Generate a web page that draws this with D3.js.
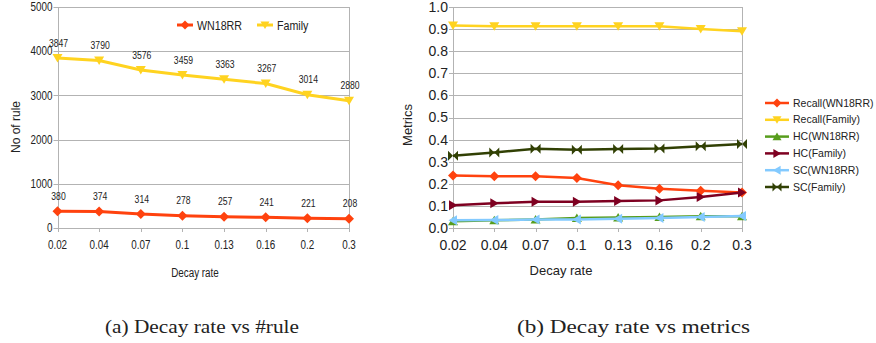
<!DOCTYPE html>
<html>
<head>
<meta charset="utf-8">
<script src="https://cdn.jsdelivr.net/npm/d3@7"></script>
<style>
  body { margin: 0; background: #fff; }
  text { fill: #222; }
</style>
</head>
<body>
<script>
// data
var decayRates = ['0.02', '0.04', '0.07', '0.1', '0.13', '0.16', '0.2', '0.3'];

var rulesWN18RR = [380, 374, 314, 278, 257, 241, 221, 208];
var rulesFamily = [3847, 3790, 3576, 3459, 3363, 3267, 3014, 2880];
var ruleTicks = [0, 1000, 2000, 3000, 4000, 5000];

var recallWN18RR = [0.238, 0.234, 0.234, 0.226, 0.193, 0.178, 0.169, 0.161];
var recallFamily = [0.916, 0.913, 0.913, 0.913, 0.913, 0.913, 0.900, 0.890];
var hcWN18RR = [0.030, 0.035, 0.038, 0.045, 0.048, 0.050, 0.053, 0.053];
var hcFamily = [0.103, 0.112, 0.119, 0.119, 0.122, 0.125, 0.140, 0.161];
var scWN18RR = [0.035, 0.036, 0.038, 0.039, 0.042, 0.045, 0.050, 0.054];
var scFamily = [0.327, 0.342, 0.359, 0.354, 0.357, 0.360, 0.370, 0.380];
var metricTicks = [0, 0.1, 0.2, 0.3, 0.4, 0.5, 0.6, 0.7, 0.8, 0.9, 1.0];

var svg = d3.select('body')
    .append('svg')
    .attr('width', 876)
    .attr('height', 343);

var sans = '"Liberation Sans", Arial, sans-serif';
var gridColor = '#b3b3b3';

// squeeze text horizontally (no narrow font installed)
function squeeze(sel, f) {
    if (f === 1) return;
    sel.each(function () {
        var w = this.getComputedTextLength();
        d3.select(this)
            .attr('textLength', w * f)
            .attr('lengthAdjust', 'spacingAndGlyphs');
    });
}

// marker paths, s = half size
function marker(kind, s) {
    if (kind === 'diamond') return 'M0,' + (-s) + 'L' + s + ',0L0,' + s + 'L' + (-s) + ',0Z';
    if (kind === 'down') return 'M' + (-s) + ',' + (-s * 0.8) + 'L' + s + ',' + (-s * 0.8) + 'L0,' + (s * 0.9) + 'Z';
    if (kind === 'up') return 'M' + (-s) + ',' + (s * 0.8) + 'L' + s + ',' + (s * 0.8) + 'L0,' + (-s * 0.9) + 'Z';
    if (kind === 'right') return 'M' + (-s * 0.8) + ',' + (-s) + 'L' + (-s * 0.8) + ',' + s + 'L' + (s * 0.9) + ',0Z';
    if (kind === 'left') return 'M' + (s * 0.8) + ',' + (-s) + 'L' + (s * 0.8) + ',' + s + 'L' + (-s * 0.9) + ',0Z';
    // bowtie
    return 'M' + (-s) + ',' + (-s) + 'L0,0L' + (-s) + ',' + s + 'Z' +
        'M' + s + ',' + (-s) + 'L0,0L' + s + ',' + s + 'Z';
}

//draw one panel: grid, axes, series
function drawPanel(cfg) {
    var g = svg.append('g');
    var x = d3.scalePoint().domain(decayRates).range([cfg.x0, cfg.x1]);
    var y = d3.scaleLinear().domain([0, cfg.yMax]).range([228, 7]);

    //grid lines
    g.selectAll('.grid')
        .data(cfg.ticks)
        .enter()
        .append('line')
        .attr('x1', cfg.x0 - 4)
        .attr('x2', cfg.x1)
        .attr('y1', function (d) { return Math.round(y(d)) + 0.5; })
        .attr('y2', function (d) { return Math.round(y(d)) + 0.5; })
        .style('stroke', gridColor)
        .style('stroke-width', 1);

    //left and right borders
    [cfg.x0, cfg.x1].forEach(function (xx) {
        g.append('line')
            .attr('x1', Math.round(xx) + 0.5).attr('x2', Math.round(xx) + 0.5)
            .attr('y1', y(cfg.yMax)).attr('y2', 232)
            .style('stroke', gridColor);
    });

    //bottom ticks
    g.selectAll('.xtick')
        .data(decayRates)
        .enter()
        .append('line')
        .attr('x1', function (d) { return Math.round(x(d)) + 0.5; })
        .attr('x2', function (d) { return Math.round(x(d)) + 0.5; })
        .attr('y1', 228).attr('y2', 232)
        .style('stroke', gridColor);

    //y labels
    g.selectAll('.ylab')
        .data(cfg.ticks)
        .enter()
        .append('text')
        .attr('x', cfg.x0 - 5)
        .attr('y', function (d) { return y(d); })
        .attr('dy', '0.35em')
        .attr('text-anchor', 'end')
        .text(cfg.tickFormat)
        .style('font-family', sans)
        .style('font-size', cfg.tickSize + 'px')
        .call(squeeze, cfg.squeeze);

    //x labels
    g.selectAll('.xlab')
        .data(decayRates)
        .enter()
        .append('text')
        .attr('x', function (d) { return x(d); })
        .attr('y', 245)
        .attr('dy', '0.35em')
        .attr('text-anchor', 'middle')
        .text(function (d) { return d; })
        .style('font-family', sans)
        .style('font-size', cfg.tickSize + 'px')
        .call(squeeze, cfg.squeeze);

    //axis titles
    g.append('text')
        .attr('x', cfg.xTitleX)
        .attr('y', cfg.xTitleY)
        .attr('dy', '0.35em')
        .attr('text-anchor', 'middle')
        .text('Decay rate')
        .style('font-family', sans)
        .style('font-size', cfg.titleSize + 'px')
        .call(squeeze, cfg.squeeze);

    g.append('text')
        .attr('transform', 'translate(' + cfg.yTitleX + ',' + cfg.yTitleY + ') rotate(-90)')
        .attr('dy', '0.35em')
        .attr('text-anchor', 'middle')
        .text(cfg.yTitle)
        .style('font-family', sans)
        .style('font-size', cfg.titleSize + 'px');

    var line = d3.line()
        .x(function (d, i) { return x(decayRates[i]); })
        .y(function (d) { return y(d); });

    cfg.series.forEach(function (s) {
        g.append('path')
            .datum(s.values)
            .attr('d', line)
            .style('fill', 'none')
            .style('stroke', s.color)
            .style('stroke-width', cfg.lineWidth);
        g.selectAll(null)
            .data(s.values)
            .enter()
            .append('path')
            .attr('transform', function (d, i) { return 'translate(' + x(decayRates[i]) + ',' + y(d) + ')'; })
            .attr('d', marker(s.marker, cfg.markerSize))
            .style('fill', s.color);
        if (cfg.dataLabels) {
            g.selectAll(null)
                .data(s.values)
                .enter()
                .append('text')
                .attr('x', function (d, i) { return x(decayRates[i]) + 1; })
                .attr('y', function (d) { return y(d) - 15; })
                .attr('dy', '0.35em')
                .attr('text-anchor', 'middle')
                .text(function (d) { return d; })
                .style('font-family', sans)
                .style('font-size', '10.5px')
                .call(squeeze, cfg.squeeze);
        }
    });

    //legend
    cfg.series.forEach(function (s, i) {
        var lx = cfg.legend.x + (cfg.legend.dx || 0) * i;
        var ly = cfg.legend.y + (cfg.legend.dy || 0) * i;
        g.append('line')
            .attr('x1', lx).attr('x2', lx + cfg.legend.w)
            .attr('y1', ly).attr('y2', ly)
            .style('stroke', s.color)
            .style('stroke-width', cfg.lineWidth);
        g.append('path')
            .attr('transform', 'translate(' + (lx + cfg.legend.w / 2) + ',' + ly + ')')
            .attr('d', marker(s.marker, cfg.markerSize - 0.5))
            .style('fill', s.color);
        g.append('text')
            .attr('x', lx + cfg.legend.w + 4)
            .attr('y', ly)
            .attr('dy', '0.35em')
            .text(s.name)
            .style('font-family', sans)
            .style('font-size', cfg.legend.size + 'px')
            .call(squeeze, cfg.legend.squeeze);
    });
}

drawPanel({
    x0: 57.5, x1: 349, yMax: 5000, ticks: ruleTicks,
    tickFormat: function (d) { return d; },
    squeeze: 0.82, tickSize: 12, titleSize: 12,
    xTitleX: 195, xTitleY: 273, yTitle: 'No of rule', yTitleX: 16, yTitleY: 127,
    lineWidth: 3, markerSize: 5, dataLabels: true,
    legend: { x: 177, y: 25, dx: 80, w: 16, size: 13, squeeze: 0.82 },
    series: [
        { name: 'WN18RR', values: rulesWN18RR, color: '#ff420e', marker: 'diamond' },
        { name: 'Family', values: rulesFamily, color: '#ffd320', marker: 'down' }
    ]
});

drawPanel({
    x0: 453, x1: 742, yMax: 1, ticks: metricTicks,
    tickFormat: d3.format('.1f'),
    squeeze: 1, tickSize: 14, titleSize: 13,
    xTitleX: 561, xTitleY: 270, yTitle: 'Metrics', yTitleX: 407, yTitleY: 125,
    lineWidth: 2.5, markerSize: 5, dataLabels: false,
    legend: { x: 765, y: 103, dy: 16.8, w: 24, size: 10.5, squeeze: 1 },
    series: [
        { name: 'Recall(WN18RR)', values: recallWN18RR, color: '#ff420e', marker: 'diamond' },
        { name: 'Recall(Family)', values: recallFamily, color: '#ffd320', marker: 'down' },
        { name: 'HC(WN18RR)', values: hcWN18RR, color: '#579d1c', marker: 'up' },
        { name: 'HC(Family)', values: hcFamily, color: '#7e0021', marker: 'right' },
        { name: 'SC(WN18RR)', values: scWN18RR, color: '#83caff', marker: 'left' },
        { name: 'SC(Family)', values: scFamily, color: '#314004', marker: 'bowtie' }
    ]
});

//captions
var serif = '"Liberation Serif", "DejaVu Serif", serif';
svg.append('text')
    .attr('x', 105).attr('y', 333)
    .attr('textLength', 194)
    .attr('lengthAdjust', 'spacingAndGlyphs')
    .text('(a) Decay rate vs #rule')
    .style('font-family', serif)
    .style('font-size', '18px');

svg.append('text')
    .attr('x', 517).attr('y', 333)
    .attr('textLength', 233)
    .attr('lengthAdjust', 'spacingAndGlyphs')
    .text('(b) Decay rate vs metrics')
    .style('font-family', serif)
    .style('font-size', '18px');
</script>
</body>
</html>
